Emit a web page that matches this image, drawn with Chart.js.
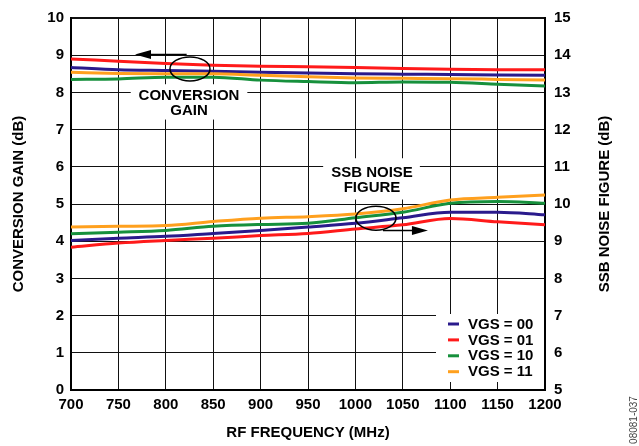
<!DOCTYPE html>
<html>
<head>
<meta charset="utf-8">
<script src="https://cdn.jsdelivr.net/npm/chart.js@4.4.0/dist/chart.umd.min.js"></script>
<style>
  html, body { margin: 0; padding: 0; background: #fff; }
  #wrap { width: 639px; height: 446px; }
</style>
</head>
<body>
<div id="wrap"><canvas id="c" width="639" height="446"></canvas></div>
<script>
// RF frequency (MHz)
const freqs = [700, 750, 800, 850, 900, 950, 1000, 1050, 1100, 1150, 1200];

// conversion gain (dB), left axis
const gain00 = [8.67, 8.61, 8.59, 8.57, 8.54, 8.52, 8.50, 8.49, 8.48, 8.47, 8.46];
const gain01 = [8.90, 8.84, 8.78, 8.73, 8.70, 8.69, 8.67, 8.64, 8.62, 8.61, 8.61];
const gain10 = [8.35, 8.36, 8.41, 8.41, 8.33, 8.29, 8.26, 8.28, 8.27, 8.22, 8.17];
const gain11 = [8.54, 8.51, 8.50, 8.50, 8.46, 8.42, 8.39, 8.38, 8.37, 8.35, 8.33];

// SSB noise figure (dB), right axis
const nf00 = [9.02, 9.08, 9.13, 9.21, 9.29, 9.38, 9.48, 9.63, 9.78, 9.78, 9.71];
const nf01 = [8.84, 8.95, 9.02, 9.08, 9.15, 9.21, 9.33, 9.44, 9.61, 9.52, 9.44];
const nf10 = [9.20, 9.24, 9.29, 9.40, 9.45, 9.48, 9.63, 9.78, 10.02, 10.07, 10.02];
const nf11 = [9.38, 9.40, 9.42, 9.53, 9.62, 9.66, 9.73, 9.87, 10.11, 10.18, 10.24];

const seriesNames = ['VGS = 00', 'VGS = 01', 'VGS = 10', 'VGS = 11'];
const seriesColors = ['#2a1a8c', '#ff1a1a', '#16903c', '#ffa01e'];

const FONT = "'Liberation Sans', Arial, Helvetica, sans-serif";

function pts(vals) { return vals.map((v, i) => ({ x: freqs[i], y: v })); }
function line(vals, idx, axis) {
  return {
    label: seriesNames[idx], data: pts(vals), yAxisID: axis,
    borderColor: seriesColors[idx], backgroundColor: seriesColors[idx],
    borderWidth: 3, pointRadius: 0, cubicInterpolationMode: 'monotone', fill: false
  };
}

// notes, boxes, arrows and the legend box
const extras = {
  id: 'extras',
  beforeDatasetsDraw(chart) {
    const { ctx, scales: { x, y } } = chart;
    ctx.save();
    ctx.fillStyle = '#fff';
    // white boxes behind the two notes
    [[763, 886, 8.22, 7.27], [966, 1068, 6.23, 5.12]].forEach(b => {
      const x0 = x.getPixelForValue(b[0]), x1 = x.getPixelForValue(b[1]);
      const y0 = y.getPixelForValue(b[2]), y1 = y.getPixelForValue(b[3]);
      ctx.fillRect(x0, y0, x1 - x0, y1 - y0);
    });
    ctx.restore();
  },
  afterDatasetsDraw(chart) {
    const { ctx, chartArea: a, scales: { x, y } } = chart;
    ctx.save();
    ctx.strokeStyle = '#000';
    ctx.fillStyle = '#000';
    ctx.lineWidth = 1.5;
    // ellipses
    [[825.5, 8.63], [1021.7, 4.62]].forEach(e => {
      ctx.beginPath();
      ctx.ellipse(x.getPixelForValue(e[0]), y.getPixelForValue(e[1]), 20, 12, 0, 0, Math.PI * 2);
      ctx.stroke();
    });
    // arrows
    function arrow(fx, tx, yv) {
      const x0 = x.getPixelForValue(fx), x1 = x.getPixelForValue(tx), py = Math.round(y.getPixelForValue(yv)) + 0.5;
      const dir = Math.sign(x1 - x0);
      ctx.beginPath(); ctx.moveTo(x0, py); ctx.lineTo(x1 - dir * 10, py); ctx.stroke();
      ctx.beginPath(); ctx.moveTo(x1, py); ctx.lineTo(x1 - dir * 16, py - 4.5); ctx.lineTo(x1 - dir * 16, py + 4.5); ctx.closePath(); ctx.fill();
    }
    arrow(822, 767.5, 9.02);
    arrow(1029, 1076.5, 4.29);
    // note texts
    ctx.font = 'bold 15px ' + FONT;
    ctx.textAlign = 'center';
    ctx.textBaseline = 'middle';
    ctx.fillText('CONVERSION', x.getPixelForValue(824.5), y.getPixelForValue(7.90));
    ctx.fillText('GAIN', x.getPixelForValue(824.5), y.getPixelForValue(7.51));
    ctx.fillText('SSB NOISE', x.getPixelForValue(1017.5), y.getPixelForValue(5.85));
    ctx.fillText('FIGURE', x.getPixelForValue(1017.5), y.getPixelForValue(5.44));

    // legend
    const lx = a.right - 109, ly = a.bottom - 76;
    ctx.fillStyle = '#fff';
    ctx.fillRect(lx, ly, a.right - lx - 1, a.bottom - ly - 8);
    ctx.textAlign = 'left';
    seriesNames.forEach((n, i) => {
      const cy = ly + 10 + i * 15.9;
      ctx.strokeStyle = seriesColors[i];
      ctx.lineWidth = 3;
      ctx.beginPath(); ctx.moveTo(lx + 12, cy); ctx.lineTo(lx + 23, cy); ctx.stroke();
      ctx.fillStyle = '#000';
      ctx.fillText(n, lx + 32, cy + 0.5);
    });
    ctx.restore();
  },
  afterDraw(chart) {
    const { ctx, chartArea: a } = chart;
    ctx.save();
    ctx.fillStyle = '#000';
    ctx.textAlign = 'center';
    ctx.textBaseline = 'middle';
    ctx.font = 'bold 15px ' + FONT;
    ctx.translate(605, (a.top + a.bottom) / 2);
    ctx.rotate(-Math.PI / 2);
    ctx.fillText('SSB NOISE FIGURE (dB)', 0, 0);
    ctx.restore();
    ctx.save();
    ctx.fillStyle = '#444';
    ctx.textAlign = 'center';
    ctx.textBaseline = 'middle';
    ctx.font = '10px ' + FONT;
    ctx.translate(634, 420);
    ctx.rotate(-Math.PI / 2);
    ctx.fillText('08081-037', 0, 0);
    ctx.restore();
  }
};

Chart.defaults.font.family = FONT;
Chart.defaults.font.size = 15;
Chart.defaults.font.weight = 'bold';
Chart.defaults.color = '#000';

new Chart(document.getElementById('c'), {
  type: 'line',
  data: {
    datasets: [
      line(gain11, 3, 'y'), line(gain10, 2, 'y'), line(gain00, 0, 'y'), line(gain01, 1, 'y'),
      line(nf11, 3, 'y2'), line(nf10, 2, 'y2'), line(nf00, 0, 'y2'), line(nf01, 1, 'y2')
    ]
  },
  options: {
    responsive: false,
    animation: false,
    devicePixelRatio: 1,
    layout: { padding: { top: 13, left: 0, right: 0, bottom: 0 } },
    plugins: { legend: { display: false }, tooltip: { enabled: false } },
    scales: {
      x: {
        type: 'linear', min: 700, max: 1200,
        ticks: { stepSize: 50, padding: 6, callback: v => String(v) },
        grid: { color: '#111', lineWidth: 1, drawTicks: false },
        border: { display: true, color: '#000', width: 2 },
        title: { display: true, text: 'RF FREQUENCY (MHz)', padding: { top: 4, bottom: 4 } },
        afterFit(s) { s.height = 56; }
      },
      y: {
        position: 'left', min: 0, max: 10,
        ticks: { stepSize: 1, padding: 7, callback: v => String(v) },
        grid: { color: '#111', lineWidth: c => (c.tick && c.tick.value === 10 ? 2 : 1), drawTicks: false },
        border: { display: true, color: '#000', width: 2 },
        title: { display: true, text: 'CONVERSION GAIN (dB)', padding: { top: 10, bottom: 0 } },
        afterFit(s) { s.width = 71; }
      },
      y2: {
        position: 'right', min: 5, max: 15,
        ticks: { stepSize: 1, padding: 9, callback: v => String(v) },
        grid: { drawOnChartArea: false, drawTicks: false },
        border: { display: true, color: '#000', width: 2 },
        afterFit(s) { s.width = 94; }
      }
    }
  },
  plugins: [extras]
});
</script>
</body>
</html>
